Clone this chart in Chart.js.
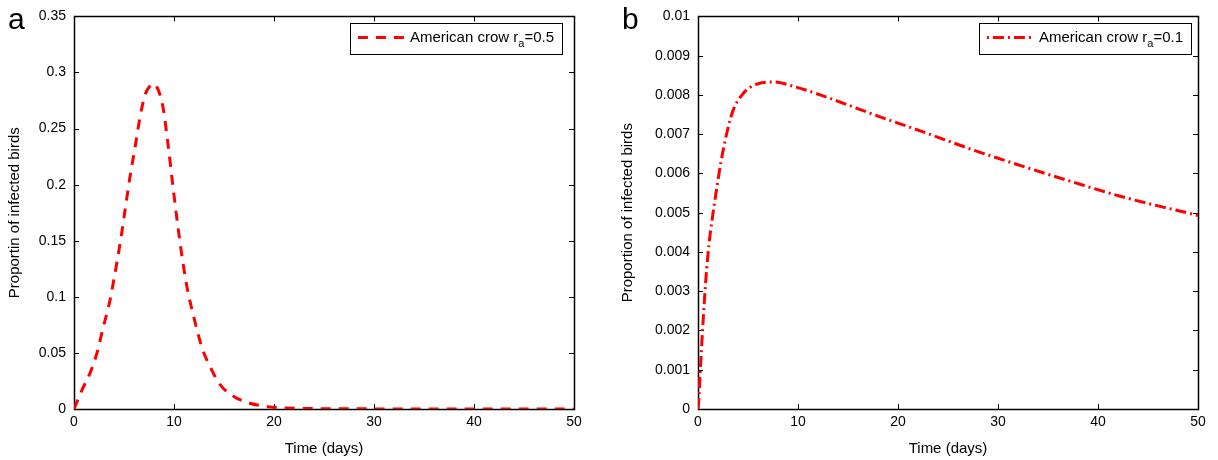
<!DOCTYPE html>
<html>
<head>
<meta charset="utf-8">
<script src="https://cdn.jsdelivr.net/npm/chart.js@4.4.1/dist/chart.umd.min.js"></script>
<style>
  body { margin: 0; background: #fff; }
  #wrap { position: relative; width: 1218px; height: 460px; font-family: "Liberation Sans", Arial, sans-serif; }
  .panel { position: absolute; top: 0; width: 609px; height: 460px; }
  .letter { position: absolute; font-size: 30px; color: #000; line-height: 1; }
</style>
</head>
<body>
<div id="wrap">
  <div class="panel" style="left:0"><canvas id="chartA"></canvas></div>
  <div class="panel" style="left:609px"><canvas id="chartB"></canvas></div>
  <div class="letter" style="left:8px;top:4px">a</div>
  <div class="letter" style="left:622px;top:4px">b</div>
</div>
<script>
// values
const daysA = [0, 0.8, 1.6, 2.3, 2.9, 3.6, 4.1, 4.6, 5.1, 5.6, 6.1, 6.6, 7.1, 7.6, 7.9, 8.4, 8.9, 9.4, 9.9, 10.4, 10.9, 11.4, 11.9, 12.4, 12.9, 13.6, 14.5, 15.9, 17.6, 19.4, 21.3, 25, 30, 40, 50];
const infectedA = [0, 0.017, 0.032, 0.05, 0.072, 0.097, 0.121, 0.147, 0.177, 0.207, 0.233, 0.26, 0.28, 0.288, 0.29, 0.285, 0.269, 0.236, 0.198, 0.162, 0.13, 0.104, 0.085, 0.067, 0.052, 0.038, 0.023, 0.0116, 0.0051, 0.0021, 0.0009, 0.0003, 0.0001, 0, 0];

const daysB = [0, 0.1, 0.2, 0.35, 0.55, 0.8, 1.1, 1.4, 1.8, 2.3, 2.9, 3.5, 4.5, 5.8, 7.5, 9.8, 13, 18, 22.5, 27.5, 32.5, 37.5, 42.5, 50];
const infectedB = [0, 0.0003, 0.00085, 0.00155, 0.0024, 0.00335, 0.0042, 0.0048, 0.0055, 0.0063, 0.00705, 0.0076, 0.00803, 0.00827, 0.00833, 0.0082, 0.00793, 0.00746, 0.00706, 0.0066, 0.00618, 0.00578, 0.0054, 0.00493];

const xTicks = [0, 10, 20, 30, 40, 50];
const yTicksA = [0, 0.05, 0.1, 0.15, 0.2, 0.25, 0.3, 0.35];
const yTicksB = [0, 0.001, 0.002, 0.003, 0.004, 0.005, 0.006, 0.007, 0.008, 0.009, 0.01];

Chart.defaults.font.family = "'Liberation Sans', Arial, sans-serif";
Chart.defaults.color = "#000";

// black frame with inward ticks on all four sides
const frameTicks = {
  id: "frameTicks",
  beforeDatasetsDraw(chart) {
    const { ctx, chartArea: a, scales } = chart;
    const len = 5;
    ctx.save();
    ctx.strokeStyle = "#000";
    ctx.lineWidth = 1;
    ctx.beginPath();
    scales.x.ticks.forEach(t => {
      const px = Math.round(scales.x.getPixelForValue(t.value)) + 0.5;
      ctx.moveTo(px, a.bottom); ctx.lineTo(px, a.bottom - len);
      ctx.moveTo(px, a.top); ctx.lineTo(px, a.top + len);
    });
    scales.y.ticks.forEach(t => {
      const py = Math.round(scales.y.getPixelForValue(t.value)) + 0.5;
      ctx.moveTo(a.left, py); ctx.lineTo(a.left + len, py);
      ctx.moveTo(a.right, py); ctx.lineTo(a.right - len, py);
    });
    ctx.stroke();
    ctx.lineWidth = 1.5;
    ctx.strokeRect(Math.round(a.left) + 0.5, Math.round(a.top) + 0.5, Math.round(a.right - a.left), Math.round(a.bottom - a.top));
    ctx.restore();
  }
};

// legend box with subscript r_a
const crowLegend = {
  id: "crowLegend",
  afterDraw(chart, args, opts) {
    const { ctx, chartArea: a } = chart;
    ctx.save();
    const big = "15px 'Liberation Sans', Arial, sans-serif";
    const small = "11px 'Liberation Sans', Arial, sans-serif";
    ctx.font = big;
    const w1 = ctx.measureText(opts.label).width;
    const w3 = ctx.measureText(opts.tail).width;
    ctx.font = small;
    const w2 = ctx.measureText(opts.sub).width;
    const boxW = 8 + 47 + 5 + w1 + w2 + w3 + 8;
    const boxH = 31;
    const x0 = a.right - opts.gap - boxW;
    const y0 = a.top + 7;
    ctx.fillStyle = "#fff";
    ctx.fillRect(x0, y0, boxW, boxH);
    ctx.strokeStyle = "#000";
    ctx.lineWidth = 1;
    ctx.strokeRect(Math.round(x0) + 0.5, Math.round(y0) + 0.5, Math.round(boxW), boxH);
    const ly = y0 + 14;
    ctx.strokeStyle = "#ff0000";
    ctx.lineWidth = 3;
    ctx.setLineDash(opts.dash);
    ctx.lineDashOffset = opts.dashOffset || 0;
    ctx.beginPath();
    ctx.moveTo(x0 + 8, ly); ctx.lineTo(x0 + 55, ly);
    ctx.stroke();
    ctx.setLineDash([]);
    ctx.fillStyle = "#000";
    ctx.textBaseline = "alphabetic";
    let tx = x0 + 60;
    ctx.font = big;
    ctx.fillText(opts.label, tx, ly + 5);
    tx += w1;
    ctx.font = small;
    ctx.fillText(opts.sub, tx, ly + 10);
    tx += w2;
    ctx.font = big;
    ctx.fillText(opts.tail, tx, ly + 5);
    ctx.restore();
  }
};

function makeChart(id, days, values, yTicks, yMax, yTitle, dash, legendOpts, yWidth, padRight, titlePad) {
  return new Chart(document.getElementById(id), {
    type: "line",
    data: {
      datasets: [{
        data: days.map((d, i) => ({ x: d, y: values[i] })),
        borderColor: "#ff0000",
        borderWidth: 3,
        borderDash: dash,
        pointRadius: 0,
        cubicInterpolationMode: "monotone",
        fill: false
      }]
    },
    options: {
      responsive: true,
      maintainAspectRatio: false,
      animation: false,
      layout: { padding: { top: 16, right: padRight, left: 0, bottom: 0 } },
      plugins: {
        legend: { display: false },
        tooltip: { enabled: false },
        crowLegend: legendOpts
      },
      scales: {
        x: {
          type: "linear",
          min: 0, max: 50,
          grid: { display: false, drawTicks: false },
          border: { display: false },
          afterBuildTicks: s => { s.ticks = xTicks.map(v => ({ value: v })); },
          afterFit: s => { s.height = 51; },
          ticks: { padding: 5, font: { size: 14 }, maxRotation: 0 },
          title: { display: true, text: "Time (days)", font: { size: 15 }, padding: { top: 0, bottom: 2 } }
        },
        y: {
          min: 0, max: yMax,
          grid: { display: false, drawTicks: false },
          border: { display: false },
          afterBuildTicks: s => { s.ticks = yTicks.map(v => ({ value: v })); },
          afterFit: s => { s.width = yWidth; },
          ticks: { padding: 8, font: { size: 14 }, callback: v => String(Number(v.toFixed(4))) },
          title: { display: true, text: yTitle, font: { size: 15 }, padding: { top: titlePad, bottom: 0 } }
        }
      }
    },
    plugins: [frameTicks, crowLegend]
  });
}

makeChart("chartA", daysA, infectedA, yTicksA, 0.35, "Proportin of infected birds", [10, 8],
  { label: "American crow r", sub: "a", tail: "=0.5", dash: [10, 8], gap: 12 }, 74, 35, 6);

makeChart("chartB", daysB, infectedB, yTicksB, 0.01, "Proportion of infected birds", [11, 4, 2, 4],
  { label: "American crow r", sub: "a", tail: "=0.1", dash: [2, 4, 11, 4], dashOffset: 0, gap: 7 }, 89, 20, 10);
</script>
</body>
</html>
